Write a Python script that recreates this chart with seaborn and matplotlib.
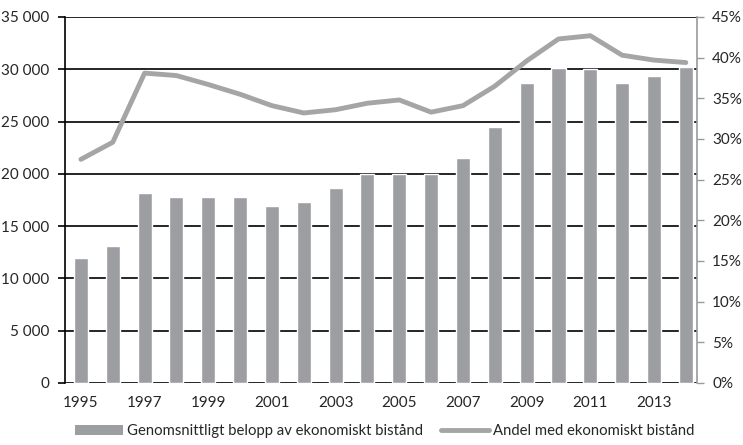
import matplotlib
matplotlib.use("Agg")
import matplotlib.pyplot as plt
from matplotlib.lines import Line2D
from matplotlib.patches import Patch
from matplotlib.ticker import FuncFormatter, MultipleLocator
import numpy as np
import pandas as pd
import seaborn as sns

# Data.
years = list(range(1995, 2015))
mean_amount = [12000, 13100, 18200, 17800, 17800, 17800, 16900, 17300, 18600, 20000,
               20000, 20000, 21500, 24500, 28700, 30100, 30000, 28700, 29400, 30200]
share_pct = [27.5, 29.6, 38.1, 37.8, 36.7, 35.5, 34.1, 33.2, 33.6, 34.4,
             34.8, 33.3, 34.1, 36.5, 39.6, 42.3, 42.7, 40.3, 39.7, 39.4]

bar_label = "Genomsnittligt belopp av ekonomiskt bistånd"
line_label = "Andel med ekonomiskt bistånd"

df = pd.DataFrame({"year": years, "amount": mean_amount, "share": share_pct})
df["pos"] = np.arange(len(df))

sns.set_style("white")
plt.rcParams["font.family"] = ["Lato", "DejaVu Sans"]

bar_color = "#9d9ea2"
line_color = "#a5a5a5"
fs = 11

fig = plt.figure(figsize=(7.43, 4.45), dpi=100)
ax = fig.add_axes([65 / 743, 1 - 383 / 445, (697 - 65) / 743, (383 - 17) / 445])

# Gridlines behind the bars.
for v in range(0, 35001, 5000):
    ax.axhline(v, color="black", lw=1.2, zorder=0.5)

sns.barplot(data=df, x="pos", y="amount", color=bar_color, width=0.44,
            saturation=1, ax=ax)
for p in ax.patches:
    p.set_zorder(2)
ax.set_xlim(-0.5, 19.35)
ax.set_ylim(0, 35000)
ax.yaxis.set_major_locator(MultipleLocator(5000))
ax.yaxis.set_major_formatter(FuncFormatter(lambda v, _: f"{int(v):,}".replace(",", " ")))
ax.set_xticks(df["pos"][::2])
ax.set_xticklabels([str(y) for y in years[::2]])
ax.set_xlabel("")
ax.set_ylabel("")
for s in ["top", "right", "bottom"]:
    ax.spines[s].set_visible(False)
ax.spines["left"].set_color("black")
ax.spines["left"].set_linewidth(1.2)
ax.tick_params(axis="y", left=True, length=5, width=1.2, color="black",
               labelsize=fs, pad=6)
ax.tick_params(axis="x", bottom=False, labelsize=fs, pad=6)

ax2 = ax.twinx()
sns.lineplot(data=df, x="pos", y="share", color=line_color, lw=3.5, ax=ax2,
             zorder=3)
ax2.set_ylim(0, 45)
ax2.yaxis.set_major_locator(MultipleLocator(5))
ax2.yaxis.set_major_formatter(FuncFormatter(lambda v, _: f"{int(v)}%"))
ax2.set_ylabel("")
ax2.set_xlabel("")
for s in ["top", "left", "bottom"]:
    ax2.spines[s].set_visible(False)
ax2.spines["right"].set_color("#9a9a9a")
ax2.spines["right"].set_linewidth(1.2)
ax2.tick_params(axis="y", right=True, length=5, width=1, color="#9a9a9a",
                labelsize=fs, pad=6)
ax2.set_xlim(-0.5, 19.35)

handles = [Patch(facecolor=bar_color, edgecolor="none", label=bar_label),
           Line2D([0], [0], color=line_color, lw=3.5, label=line_label)]
fig.legend(handles=handles, loc="lower center", ncol=2, frameon=False,
           fontsize=10.7, bbox_to_anchor=(0.518, -0.015), handlelength=3.2,
           handletextpad=0.3, columnspacing=1.2)

fig.savefig("out.png", dpi=100)
